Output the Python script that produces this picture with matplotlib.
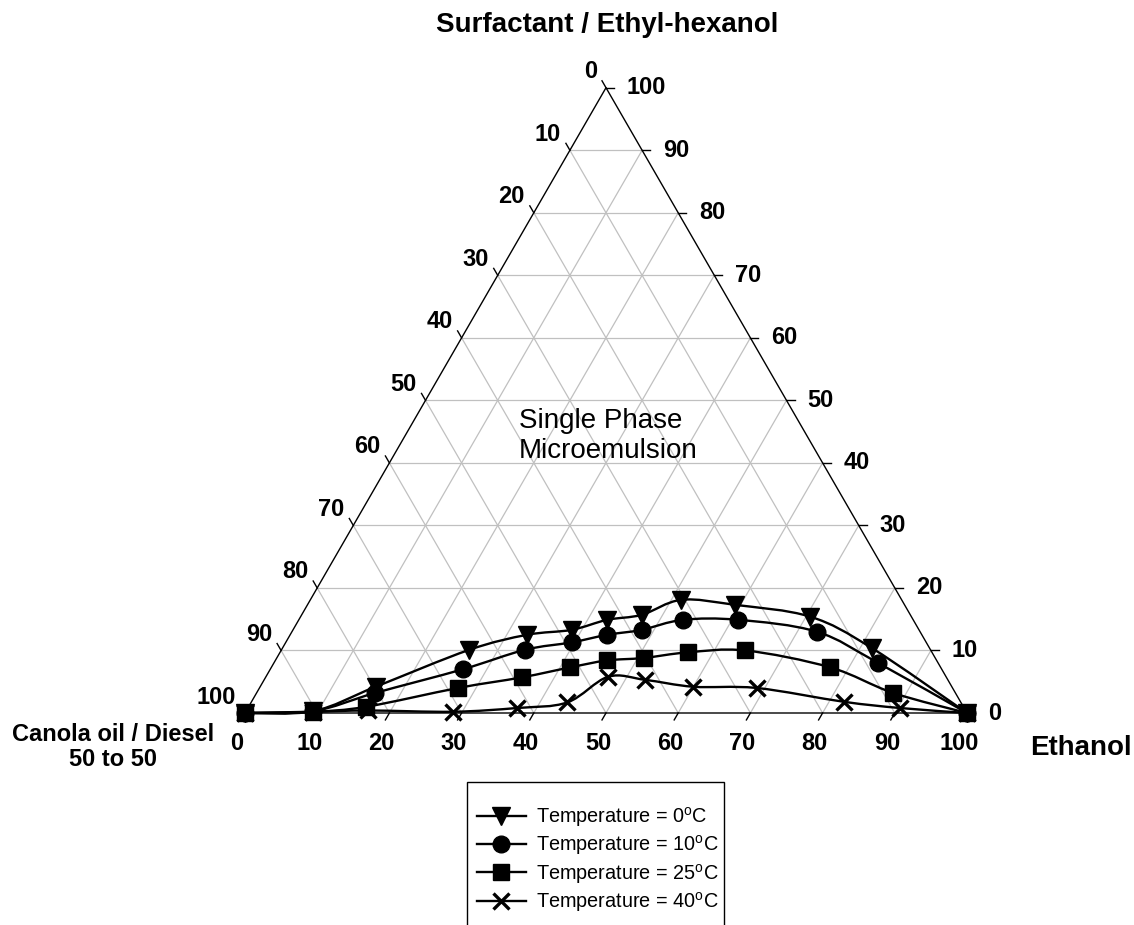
import numpy as np
import matplotlib
matplotlib.use('Agg')
import matplotlib.pyplot as plt
from matplotlib.path import Path
from matplotlib.patches import PathPatch, Rectangle
from matplotlib.lines import Line2D

plt.rcParams['font.family'] = ['Liberation Sans', 'DejaVu Sans']
plt.rcParams['mathtext.fontset'] = 'custom'
plt.rcParams['mathtext.rm'] = 'Liberation Sans'

# Phase boundaries (wt%): ethanol and surfactant/ethyl-hexanol content,
# the canola oil/diesel (50:50) share is the remainder.
ethanol_0C = [0, 9.3, 16.0, 26.0, 32.8, 38.6, 42.7, 47.1, 51.4, 59.2, 70.6, 81.6, 100]
surfact_0C = [0, 0.3, 4.2, 10.1, 12.5, 13.3, 14.9, 15.7, 18.1, 17.3, 15.4, 10.4, 0]

ethanol_10C = [0, 9.3, 16.4, 26.7, 33.7, 39.6, 43.9, 48.3, 53.2, 60.9, 72.7, 83.7, 100]
surfact_10C = [0, 0.3, 3.2, 7.0, 10.1, 11.3, 12.5, 13.3, 14.9, 14.9, 13.0, 8.0, 0]

ethanol_25C = [0, 9.3, 16.3, 27.5, 35.5, 41.4, 45.9, 50.8, 56.5, 64.3, 77.4, 88.2, 100]
surfact_25C = [0, 0.2, 1.0, 4.0, 5.7, 7.3, 8.4, 8.8, 9.7, 10.0, 7.3, 3.2, 0]

ethanol_40C = [0, 9.3, 16.9, 28.7, 37.3, 43.8, 47.4, 52.8, 60.0, 68.9, 82.0, 90.3, 100]
surfact_40C = [0, 0.2, 0.4, 0.2, 0.8, 1.7, 5.8, 5.3, 4.2, 4.0, 1.8, 0.8, 0]

temperatures = ['0', '10', '25', '40']
axis_ticks = list(range(0, 101, 10))

H = np.sqrt(3) / 2


def to_xy(ethanol, surfact):
    e = np.asarray(ethanol, float)
    s = np.asarray(surfact, float)
    return e + s / 2, s * H


def smooth_path(x, y):
    """Cardinal (Catmull-Rom) Bezier path through the points."""
    P = np.column_stack([x, y])
    n = len(P)
    verts = [P[0]]
    codes = [Path.MOVETO]
    for i in range(n - 1):
        p0 = P[i - 1] if i > 0 else P[i]
        p1, p2 = P[i], P[i + 1]
        p3 = P[i + 2] if i + 2 < n else P[i + 1]
        verts += [p1 + (p2 - p0) / 6, p2 - (p3 - p1) / 6, p2]
        codes += [Path.CURVE4] * 3
    return Path(verts, codes)


W_PX, H_PX = 1134, 925
X0_PX, Y0_PX = 245, 713     # Canola corner in pixels
SCALE = 7.22                # pixels per wt%

fig = plt.figure(figsize=(W_PX / 100, H_PX / 100), dpi=100)
ax = fig.add_axes([0, 0, 1, 1])
ax.set_xlim(-X0_PX / SCALE, (W_PX - X0_PX) / SCALE)
ax.set_ylim(-(H_PX - Y0_PX) / SCALE, Y0_PX / SCALE)
ax.axis('off')

grid_kw = dict(color='#c0c0c0', lw=0.9, zorder=1)
for v in axis_ticks[1:-1]:
    # constant surfactant
    x, y = to_xy([0, 100 - v], [v, v]); ax.plot(x, y, **grid_kw)
    # constant ethanol
    x, y = to_xy([v, v], [0, 100 - v]); ax.plot(x, y, **grid_kw)
    # constant canola oil/diesel
    x, y = to_xy([100 - v, 0], [0, 100 - v]); ax.plot(x, y, **grid_kw)

# triangle frame
x, y = to_xy([0, 100, 0, 0], [0, 0, 100, 0])
ax.plot(x, y, color='black', lw=1.0, zorder=2)

tl = 8 / SCALE
lab_kw = dict(fontsize=17, fontweight='bold', textcoords='offset pixels')
for v in axis_ticks:
    # bottom axis: ethanol
    bx, by = to_xy(v, 0)
    ax.plot([bx, bx - 0.5 * tl], [by, by - H * tl], color='black', lw=1.0, zorder=2)
    ax.annotate(str(v), (bx, by), xytext=(-8, -31), ha='center', va='center', **lab_kw)
    # right axis: surfactant / ethyl-hexanol
    rx, ry = to_xy(100 - v, v)
    ax.plot([rx, rx + tl], [ry, ry], color='black', lw=1.0, zorder=2)
    ax.annotate(str(v), (rx, ry), xytext=(21, 0), ha='left', va='center', **lab_kw)
    # left axis: canola oil / diesel
    lx, ly = to_xy(0, 100 - v)
    ax.plot([lx, lx - 0.5 * tl], [ly, ly + H * tl], color='black', lw=1.0, zorder=2)
    ax.annotate(str(v), (lx, ly), xytext=(-9, 16), ha='right', va='center', **lab_kw)

series = [
    (ethanol_0C, surfact_0C, 'v', 13),
    (ethanol_10C, surfact_10C, 'o', 12),
    (ethanol_25C, surfact_25C, 's', 11),
    (ethanol_40C, surfact_40C, 'x', 12),
]
handles, labels = [], []
for (e, s, mk, ms), t in zip(series, temperatures):
    x, y = to_xy(e, s)
    ax.add_patch(PathPatch(smooth_path(x, y), facecolor='none', edgecolor='black',
                           lw=1.7, zorder=3))
    mew = 2.4 if mk == 'x' else 1
    ax.plot(x, y, ls='none', marker=mk, ms=ms, color='black', mew=mew, zorder=4)
    handles.append(Line2D([], [], color='black', lw=1.7, marker=mk, ms=ms, mew=mew))
    labels.append(r'Temperature = %s$^{\mathrm{o}}$C' % t)

fig.text(607 / W_PX, 1 - 25 / H_PX, 'Surfactant / Ethyl-hexanol', fontsize=20,
         fontweight='bold', ha='center', va='center')
fig.text(1081 / W_PX, 1 - 748 / H_PX, 'Ethanol', fontsize=20, fontweight='bold',
         ha='center', va='center')
fig.text(113 / W_PX, 1 - 747 / H_PX, 'Canola oil / Diesel\n50 to 50', fontsize=17,
         fontweight='bold', ha='center', va='center', linespacing=1.15)
fig.text(519 / W_PX, 1 - 436 / H_PX, 'Single Phase\nMicroemulsion', fontsize=20,
         ha='left', va='center', linespacing=1.22)

# legend box runs past the bottom edge of the figure
fig.add_artist(Rectangle((467 / W_PX, -0.05), (724 - 467) / W_PX, 0.05 + 1 - 782 / H_PX,
                         transform=fig.transFigure, facecolor='white',
                         edgecolor='black', lw=1.0, zorder=-1))
leg = ax.legend(handles, labels, loc='upper left',
                bbox_to_anchor=(477 / W_PX, 1 - 805 / H_PX), bbox_transform=fig.transFigure,
                frameon=False, fontsize=14.3, handlelength=2.45, handletextpad=0.5,
                labelspacing=0.22, borderpad=0, borderaxespad=0)
leg.set_zorder(6)

fig.savefig('out.png', dpi=100)
